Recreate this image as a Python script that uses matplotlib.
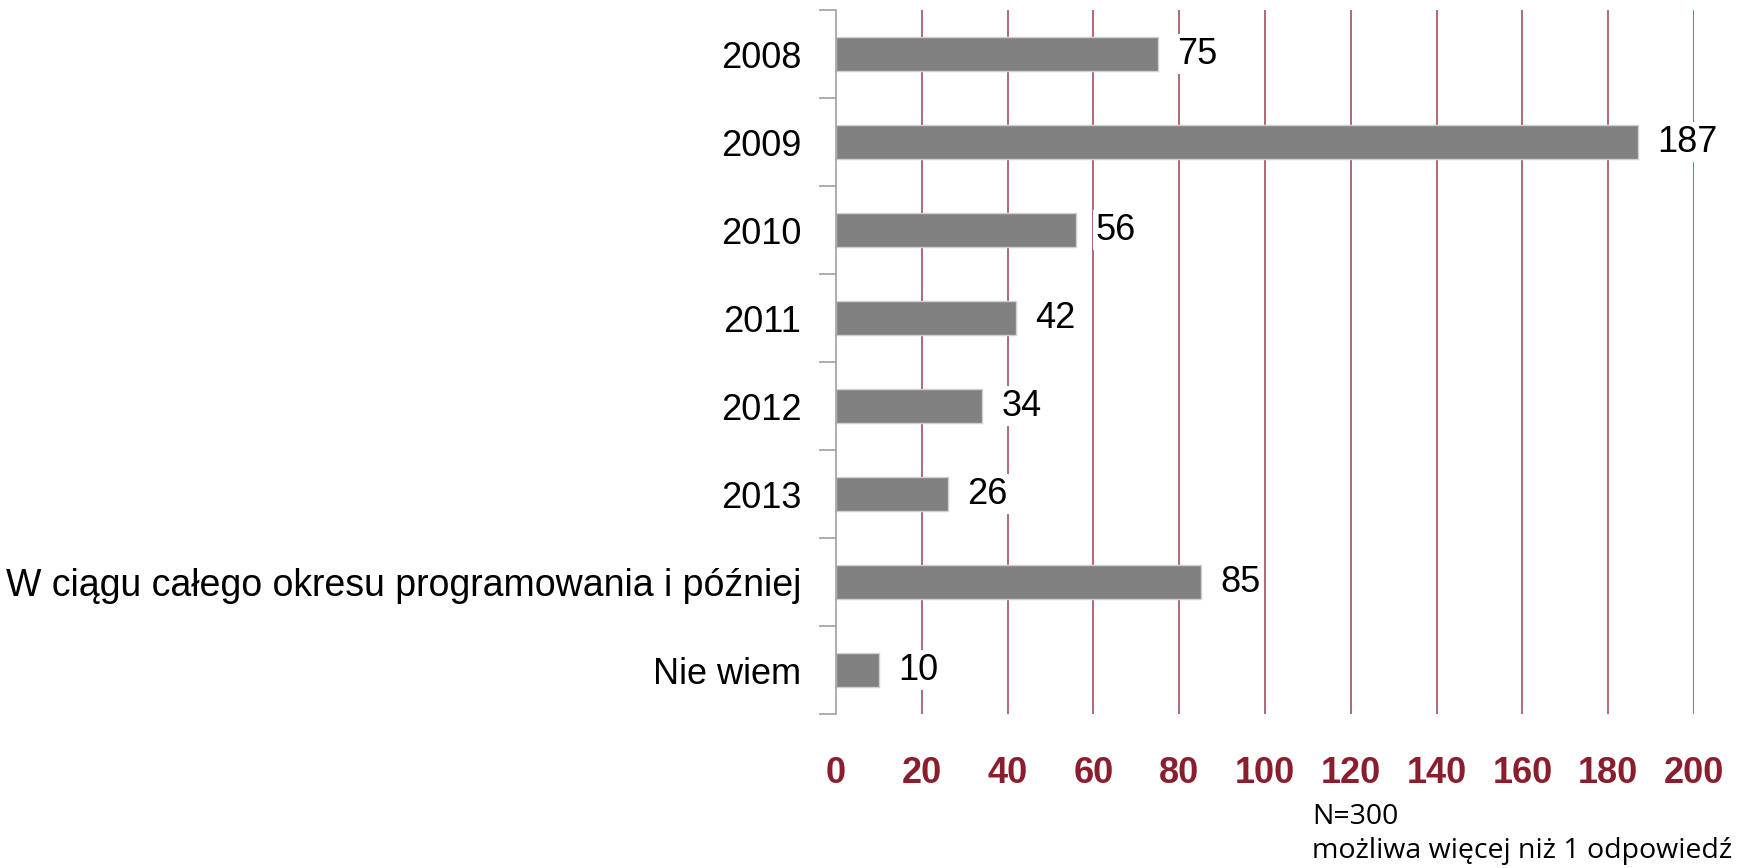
import matplotlib.pyplot as plt

# Data
categories = ['2008', '2009', '2010', '2011', '2012', '2013',
              'W ciągu całego okresu programowania i później', 'Nie wiem']
values = [75, 187, 56, 42, 34, 26, 85, 10]
x_ticks = [0, 20, 40, 60, 80, 100, 120, 140, 160, 180, 200]

red = '#8B1E2E'
plt.rcParams['font.family'] = ['Liberation Sans', 'DejaVu Sans']

fig = plt.figure(figsize=(17.41, 8.68), dpi=100)
ax = fig.add_axes([836 / 1741, 1 - 714 / 868, (1694 - 836) / 1741, (714 - 10) / 868])

pos = list(range(len(categories)))
ax.barh(pos, values, height=0.39, color='#808080', edgecolor='#d0d0d0',
        linewidth=1, zorder=2)

for p, v in zip(pos, values):
    ax.text(v + 4.5, p, str(v), va='center', ha='left', fontsize=26,
            color='black', zorder=3,
            bbox=dict(facecolor='white', edgecolor='none', pad=2))

ax.set_xlim(0, 200)
ax.set_ylim(len(categories) - 0.5, -0.5)

# vertical grid lines
ax.set_xticks(x_ticks)
ax.set_xticklabels([str(t) for t in x_ticks], fontsize=26, fontweight='bold', color=red)
ax.tick_params(axis='x', length=0, pad=30)
for t in x_ticks[1:]:
    ax.axvline(t, color=red, linewidth=1.1, alpha=0.85, zorder=1)

# category boundaries as ticks, labels in the middle
ax.set_yticks([p - 0.5 for p in pos] + [len(categories) - 0.5])
ax.set_yticklabels([])
ax.tick_params(axis='y', which='major', length=12, width=1.2, color='#a0a0a0', direction='out')
ax.set_yticks(pos, minor=True)
ax.set_yticklabels(categories, minor=True, fontsize=26)
ax.tick_params(axis='y', which='minor', length=0, pad=25)
for lbl in ax.get_yticklabels(minor=True):
    if len(lbl.get_text()) > 20:
        lbl.set_fontsize(27)

for s in ['top', 'right', 'bottom']:
    ax.spines[s].set_visible(False)
ax.spines['left'].set_color('#a0a0a0')
ax.spines['left'].set_linewidth(1.2)

fig.text(1312 / 1741, 1 - 817 / 868, 'N=300', fontsize=20.5, va='center', ha='left',
         family=['Open Sans', 'DejaVu Sans'])
fig.text(1312 / 1741, 1 - 851 / 868, 'możliwa więcej niż 1 odpowiedź', fontsize=20.5,
         va='center', ha='left', family=['Open Sans', 'DejaVu Sans'])

fig.savefig('out.png', dpi=100)
plt.close()
